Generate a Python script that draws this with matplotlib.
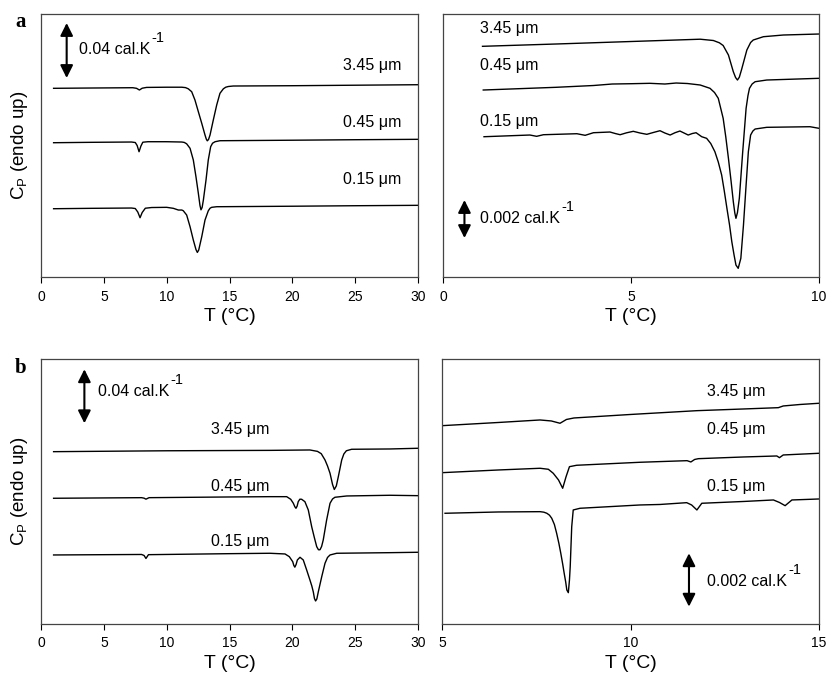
import matplotlib
matplotlib.use("Agg")
from matplotlib import pyplot as plt

plt.rcParams['font.family'] = ['Liberation Sans', 'DejaVu Sans']
plt.rcParams['mathtext.default'] = 'regular'

# Cp in arbitrary units (endo up), T in deg C
sizes = ['3.45 μm', '0.45 μm', '0.15 μm']

# panel a, full range
aL_T_345 = [1.0, 4.0, 7.3, 7.6, 7.83, 8.05, 8.4, 10.0, 11.2, 11.5, 11.72, 11.99, 12.25, 12.52, 12.79, 13.05,
            13.15, 13.23, 13.33, 13.45, 13.71, 13.98, 14.24, 14.51, 14.7, 14.9, 15.3, 20.0, 25.0, 30.0]
aL_cp_345 = [188.7, 189.0, 189.3, 188.7, 187.0, 188.8, 189.6, 189.8, 189.8, 189.4, 188.2, 185.3, 177, 165.3, 153.7, 142,
             138.0, 136.2, 137.5, 142, 157, 172, 183.7, 188.2, 189.8, 190.5, 191.0, 191.3, 191.8, 192.3]
aL_T_045 = [1.0, 4.0, 7.2, 7.5, 7.65, 7.8, 7.95, 8.1, 8.5, 10.0, 11.2, 11.4, 11.59, 11.86, 12.12, 12.33, 12.52,
            12.65, 12.73, 12.82, 12.92, 13.13, 13.31, 13.5, 13.65, 13.85, 14.24, 20, 25, 30]
aL_cp_045 = [134.3, 134.7, 135.0, 134.5, 131.5, 125.3, 131.0, 134.8, 135.3, 135.3, 135.0, 134.6, 133.2, 128.7, 117, 100.3, 83.7,
             71.5, 67.2, 69.5, 77, 97, 117, 130.3, 133.8, 135.3, 136.3, 136.8, 137.3, 137.7]
aL_T_015 = [1.0, 4.0, 7.2, 7.5, 7.7, 7.88, 8.05, 8.3, 8.8, 10.0, 10.53, 10.93, 11.2, 11.32, 11.59, 11.86,
            12.12, 12.33, 12.44, 12.55, 12.79, 13.05, 13.31, 13.45, 13.58, 13.98, 20, 25, 30]
aL_cp_015 = [68.3, 68.7, 69.0, 68.5, 65.0, 59.3, 64.5, 68.8, 69.5, 69.7, 68.7, 67, 67, 66.3, 62, 50.3,
             37, 27.5, 24.6, 27.0, 40.3, 57, 66.2, 68.8, 69.7, 70.3, 70.8, 71.3, 71.7]

# panel a, zoom 0-10
aR_T_345 = [1.05, 3.0, 5.0, 6.84, 7.19, 7.35, 7.45, 7.59, 7.72, 7.78, 7.83, 7.88, 7.94, 8.08, 8.18, 8.25,
            8.52, 9.05, 10.0]
aR_cp_345 = [230.7, 233.0, 235.5, 237.8, 236.5, 234.2, 231.5, 222, 205.3, 199.5, 197, 199.8, 207.5, 227, 234.5, 237,
             240.3, 242, 243]
aR_T_045 = [1.07, 2.0, 3.0, 4.0, 4.5, 5.0, 5.5, 5.9, 6.2, 6.5, 6.84, 7.1, 7.22, 7.32, 7.45, 7.52, 7.59, 7.66,
            7.72, 7.76, 7.79, 7.83, 7.88, 7.97, 8.06, 8.11, 8.15, 8.22, 8.3, 8.61, 10]
aR_cp_045 = [187, 188.3, 189.7, 191.5, 193, 193.3, 193.7, 193, 194, 193.5, 192, 188.7, 184.5, 178.7, 158.7, 140, 118.7, 96,
             75.3, 64, 58.7, 64.5, 78.7, 125.3, 168.7, 181.5, 188.7, 193, 195.3, 197, 198.7]
aR_T_015 = [1.09, 2.31, 2.49, 2.67, 3.56, 3.78, 4.0, 4.44, 4.58, 4.71, 4.88, 5.06, 5.24, 5.42, 5.6, 5.77,
            5.9, 6.04, 6.17, 6.3, 6.41, 6.52, 6.63, 6.73, 6.88, 7.01, 7.12, 7.23, 7.32, 7.41, 7.48, 7.55,
            7.62, 7.68, 7.74, 7.79, 7.85, 7.92, 7.99, 8.06, 8.12, 8.18, 8.24, 8.3, 8.61, 9.76, 10.0]
aR_cp_015 = [140.3, 142, 140.7, 142.3, 143.3, 141.7, 144.3, 145, 143.5, 142.3, 144.2, 145.7, 144.0, 142.7, 144.6, 146.3,
             144.0, 142, 144.3, 146, 144.0, 142, 143.5, 144.3, 140.3, 138.7, 133.5, 125.3, 115, 102, 86, 68.7,
             52, 35.3, 22, 12, 8.7, 18.7, 52, 92, 125.3, 142, 146, 148, 149.7, 150.3, 148.7]

# panel b, full range
bL_T_345 = [1.0, 10, 18.22, 21.4, 22.0, 22.3, 22.6, 22.8, 23.0, 23.2, 23.34, 23.5, 23.66, 23.93, 24.1, 24.3,
            24.72, 27.77, 30]
bL_cp_345 = [172.3, 173.2, 173.6, 174.0, 172.6, 170.3, 164, 158, 150.7, 139.5, 134.5, 138, 147.3, 164, 170.0, 173.2,
             174.7, 175, 175.7]
bL_T_045 = [1.0, 8.0, 8.2, 8.35, 8.6, 15, 18.22, 19.55, 19.87, 20.08, 20.2, 20.29, 20.38, 20.47, 20.6, 20.74,
            21.0, 21.27, 21.54, 21.75, 21.94, 22.08, 22.2, 22.33, 22.46, 22.73, 23.0, 23.2, 23.39, 24.33, 27.77, 30]
bL_cp_045 = [125.7, 126.3, 125.8, 124.8, 126.3, 127, 127.3, 127.3, 124.7, 120.7, 117.2, 115.7, 117.8, 122.3, 124.8, 124.7,
             122.3, 114, 97.3, 86.5, 77.3, 74.2, 74.2, 77.5, 84, 104, 120.7, 125.0, 126.7, 128, 128.7, 128.3]
bL_T_015 = [1.0, 8.0, 8.2, 8.35, 8.55, 15, 18.22, 19.42, 19.76, 20.03, 20.12, 20.2, 20.3, 20.4, 20.61, 20.87,
            21.14, 21.4, 21.55, 21.67, 21.76, 21.85, 21.95, 22.07, 22.34, 22.6, 22.8, 23.0, 23.53, 27.77, 30]
bL_cp_015 = [69, 69.5, 68.5, 65.5, 69.3, 70.3, 70.7, 70, 67.3, 62.3, 58.5, 56.8, 59.5, 64, 66.7, 64,
             54, 44, 38, 32, 25.5, 23.0, 25.0, 32.3, 47.3, 60.7, 66.5, 69, 70.7, 71.3, 71.7]

# panel b, zoom 5-15
bR_T_345 = [5.0, 6.5, 7.6, 7.9, 8.13, 8.3, 8.5, 10, 11.76, 13.0, 13.92, 14.05, 14.5, 15.0]
bR_cp_345 = [198.3, 201.5, 204, 203, 200.7, 204.5, 206, 209.5, 213.3, 215, 216.3, 218, 219.5, 220.7]
bR_T_045 = [5.0, 6.5, 7.6, 7.82, 7.95, 8.09, 8.2, 8.29, 8.38, 8.57, 10.25, 11.5, 11.6, 11.7, 11.8,
            13.0, 13.88, 13.95, 14.05, 15.0]
bR_cp_045 = [151.3, 154, 155.7, 154.7, 150.7, 144, 135.7, 147.3, 157.3, 158.7, 161.7, 163.3, 162.0, 164.5, 165.3,
             167, 168, 166.3, 169, 170.7]
bR_T_015 = [5.08, 6.5, 7.6, 7.7, 7.78, 7.85, 7.91, 7.98, 8.04, 8.1, 8.15, 8.2, 8.24, 8.28, 8.31, 8.35, 8.38,
            8.4, 8.44, 8.48, 8.66, 10.25, 10.78, 11.49, 11.62, 11.76, 11.89, 13.0, 13.79, 13.95, 14.1, 14.28, 15.0]
bR_cp_015 = [110.7, 112, 112.3, 111.8, 110.7, 108.8, 105.7, 99.5, 90.7, 80.5, 70.7, 60.0, 50.7, 42.0, 34, 31.3, 44.0,
             57.3, 97.3, 114, 115.7, 119, 119.5, 121.3, 119, 114, 120.7, 122.5, 124, 121.5, 118.3, 124, 125]

scale_big = '0.04 cal.K'
scale_small = '0.002 cal.K'

fig = plt.figure(figsize=(8.29, 6.8), dpi=100)

panels = [
    # rect, xlim, ticks, curves, label positions (T, cp), scale bar (T, lo, hi, text T, text cp, text)
    dict(rect=[0.0495, 0.5926, 0.4547, 0.3868], xlim=(0, 30), ticks=range(0, 31, 5), ylim=(0, 263),
         curves=[(aL_T_345, aL_cp_345), (aL_T_045, aL_cp_045), (aL_T_015, aL_cp_015)],
         labels=[(24.0, 212), (24.0, 155), (24.0, 98)],
         bar=(2.04, 199, 254, 3.0, 228, scale_big), ylabel=True),
    dict(rect=[0.5344, 0.5926, 0.4536, 0.3868], xlim=(0, 10), ticks=[0, 5, 10], ylim=(0, 263),
         curves=[(aR_T_345, aR_cp_345), (aR_T_045, aR_cp_045), (aR_T_015, aR_cp_015)],
         labels=[(0.99, 248.7), (0.99, 211.3), (0.99, 156)],
         bar=(0.57, 39, 77, 0.99, 59, scale_small), ylabel=False),
    dict(rect=[0.0495, 0.0824, 0.4547, 0.3897], xlim=(0, 30), ticks=range(0, 31, 5), ylim=(0, 265),
         curves=[(bL_T_345, bL_cp_345), (bL_T_045, bL_cp_045), (bL_T_015, bL_cp_015)],
         labels=[(13.5, 194.7), (13.5, 137.3), (13.5, 82.3)],
         bar=(3.45, 200.7, 254.7, 4.5, 232, scale_big), ylabel=True),
    dict(rect=[0.5332, 0.0824, 0.4548, 0.3897], xlim=(5, 15), ticks=[5, 10, 15], ylim=(0, 265),
         curves=[(bR_T_345, bR_cp_345), (bR_T_045, bR_cp_045), (bR_T_015, bR_cp_015)],
         labels=[(12.02, 232.3), (12.02, 194), (12.02, 137.3)],
         bar=(11.55, 17.3, 70.7, 12.02, 42, scale_small), ylabel=False),
]

for p in panels:
    ax = fig.add_axes(p['rect'])
    for (T, cp) in p['curves']:
        ax.plot(T, cp, color='black', lw=1.0, solid_joinstyle='round')
    for (tx, ty), name in zip(p['labels'], sizes):
        ax.text(tx, ty, name, fontsize=11.5, ha='left', va='center')
    bx, lo, hi, tx, ty, txt = p['bar']
    ax.annotate('', xy=(bx, hi), xytext=(bx, lo),
                arrowprops=dict(arrowstyle='<|-|>', color='black', lw=1.5,
                                mutation_scale=19, shrinkA=0, shrinkB=0))
    t = ax.text(tx, ty, txt, fontsize=11.5, ha='left', va='center')
    # K^-1 superscript, drawn next to the unit text
    ax.annotate('-1', xy=(1.0, 0.8), xycoords=t, xytext=(1, 0), textcoords='offset points',
                fontsize=10.5, ha='left', va='bottom')
    ax.set_xlim(*p['xlim'])
    ax.set_ylim(*p['ylim'])
    ax.set_xticks(list(p['ticks']))
    ax.set_yticks([])
    ax.tick_params(axis='x', direction='out', length=4, labelsize=10, pad=5)
    for s in ax.spines.values():
        s.set_color('#444444')
        s.set_linewidth(0.9)
    ax.set_xlabel('T (°C)', fontsize=14, labelpad=3)
    if p['ylabel']:
        ax.set_ylabel('C$_P$ (endo up)', fontsize=13.5, labelpad=8)

fig.text(0.018, 0.967, 'a', fontsize=15, fontweight='bold', family='Liberation Serif', va='center')
fig.text(0.018, 0.459, 'b', fontsize=15, fontweight='bold', family='Liberation Serif', va='center')

fig.savefig('out.png', dpi=100)
